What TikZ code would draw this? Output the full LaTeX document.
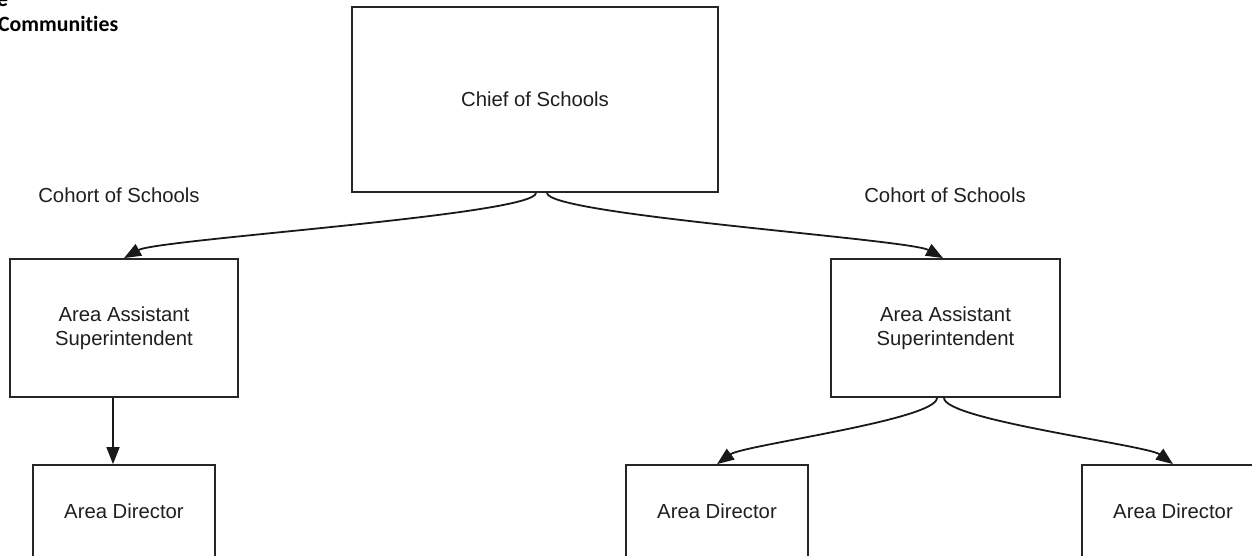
\documentclass[tikz,border=0pt]{standalone}
\usepackage{fontspec}
\setmainfont{Liberation Sans}
\newfontfamily\titlefont[Ligatures=NoCommon]{Carlito}
\usetikzlibrary{arrows.meta}
\tikzset{
  box/.style={draw=black!85, line width=1.8pt, rectangle, align=center,
    inner sep=0pt, font=\fontsize{20.3}{24}\selectfont, text=black!88},
  conn/.style={draw=black!90, line width=1.8pt,
    -{Triangle[length=17pt,width=13pt]}},
  lbl/.style={inner sep=0pt, font=\fontsize{20.3}{24}\selectfont, text=black!88},
  ttl/.style={inner sep=0pt, anchor=base west, font=\titlefont\bfseries\fontsize{21.8}{26}\selectfont}
}
\begin{document}
\begin{tikzpicture}[x=1pt,y=-1pt]
\useasboundingbox (0,0) rectangle (1252,555);
\fill[white] (0,0) rectangle (1252,555);

\node[ttl] (t1) at (-3,6) {e};
\node[ttl] (t2) at (-2,31) {Communities};

\node[box, minimum width=366pt, minimum height=185pt] (chief) at (535,99.5) {Chief of Schools};
\node[lbl] (coh1) at (119,195) {Cohort of Schools};
\node[lbl] (coh2) at (945,195) {Cohort of Schools};

\node[box, minimum width=228pt, minimum height=138pt] (aas1) at (124,328) {Area Assistant\\Superintendent};
\node[box, minimum width=229pt, minimum height=138pt] (aas2) at (945.5,328) {Area Assistant\\Superintendent};

\node[box, minimum width=182pt, minimum height=92pt] (ad1) at (124,511) {Area Director};
\node[box, minimum width=182pt, minimum height=92pt] (ad2) at (717,511) {Area Director};
\node[box, minimum width=182pt, minimum height=92pt] (ad3) at (1173,511) {Area Director};

\draw[conn] ([xshift=1pt]chief.south) .. controls +(0,22) and +(34,-19) .. (aas1.north);
\draw[conn] ([xshift=12pt]chief.south) .. controls +(0,22) and +(-34,-19) .. ([xshift=-2.5pt]aas2.north);

\draw[conn] ([xshift=-11pt]aas1.south) -- ([xshift=-11pt]aas1.south |- ad1.north);

\draw[conn] ([xshift=-8.5pt]aas2.south) .. controls +(0,22) and +(26,-19) .. (ad2.north);
\draw[conn] ([xshift=-1.5pt]aas2.south) .. controls +(0,22) and +(-26,-19) .. (ad3.north);
\end{tikzpicture}
\end{document}
